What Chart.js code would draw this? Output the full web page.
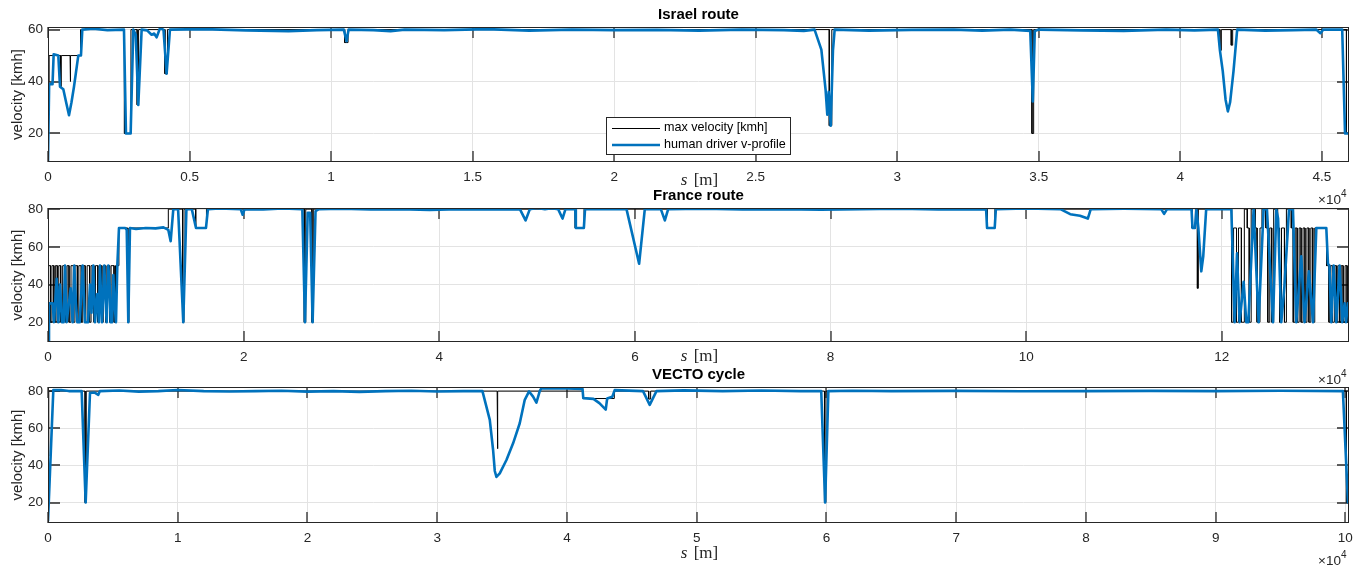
<!DOCTYPE html>
<html>
<head>
<meta charset="utf-8">
<script src="https://cdn.jsdelivr.net/npm/chart.js@4.4.1/dist/chart.umd.min.js"></script>
<style>
  html, body { margin: 0; padding: 0; background: #fff; }
  #wrap { position: relative; width: 1368px; height: 571px; }
  canvas { position: absolute; left: 0; top: 0; }
</style>
</head>
<body>
<div id="wrap">
  <canvas id="israel" width="1368" height="571"></canvas>
  <canvas id="france" width="1368" height="571"></canvas>
  <canvas id="vecto" width="1368" height="571"></canvas>
</div>
<script>
// ---- data: [s in m, v in km/h] ----
const israelMax = [
  [0,40],[40,40],[40,50],[440,50],[440,38],[470,38],[470,50],[780,50],[780,40],[800,40],[800,50],
  [1150,50],[1150,60],[2700,60],[2700,20],[2930,20],[2930,60],[3150,60],[3150,31],[3200,31],[3200,60],
  [4130,60],[4130,43],[4220,43],[4220,60],[10480,60],[10480,55],[10600,55],[10600,60],
  [27600,60],[27600,23],[27690,23],[27690,60],[34760,60],[34760,20],[34820,20],[34820,60],
  [41400,60],[41400,52],[41450,52],[41450,60],[41800,60],[41800,54],[41850,54],[41850,60],
  [45870,60],[45870,20],[45960,20]
];
const israelHuman = [
  [0,9],[40,39],[160,39],[200,50.5],[365,50],[424,38],[541,37],[640,32],[742,27],[830,32],[918,38],
  [1070,50],[1165,50],[1212,60],[1600,60.3],[2100,59.8],[2684,60],[2754,20],[2920,20],[3013,60],
  [3100,58],[3190,31],[3308,60],[3500,59.7],[3660,58],[3750,58.5],[3837,57],[3955,60.5],[4080,60],
  [4190,43],[4308,60],[5500,60.2],[7000,59.7],[8500,59.4],[9500,59.8],[10450,60],[10547,55.5],
  [10620,60],[11500,59.8],[12100,59.4],[12600,60],[14000,59.8],[15500,60.2],[17000,59.6],[18500,60],
  [20000,59.8],[21500,59.9],[23000,59.6],[24500,60],[26000,59.8],[26700,59.5],[27080,60],[27320,52.3],
  [27470,36.8],[27530,27.2],[27580,36],[27650,23],[27730,52],[27790,60],[29000,59.6],[30500,59.9],
  [32000,60],[33000,59.6],[34000,60],[34700,59.5],[34790,32.3],[34860,59.5],[35000,60],[36500,59.7],
  [38000,59.5],[39500,60],[40500,59.7],[41330,60],[41400,52],[41500,44],[41600,33],[41680,28.5],
  [41760,32],[41880,44],[42010,60],[43000,59.6],[44000,59.8],[44800,60],[44950,58.6],[45050,60],
  [45720,60],[45820,20],[45960,20]
];

const franceMax = [
  [0,20],[50,20],[50,50],[250,50],[250,20],[400,20],[400,50],[600,50],[600,20],[750,20],[750,50],
  [950,50],[950,20],[1100,20],[1100,50],[1300,50],[1300,20],[1500,20],[1500,50],[1800,50],[1800,20],
  [1950,20],[1950,50],[2150,50],[2150,20],[2350,20],[2350,50],[2600,50],[2600,20],[2750,20],[2750,50],
  [3000,50],[3000,20],[3150,20],[3150,50],[3400,50],[3400,20],[3550,20],[3550,50],[3800,50],[3800,20],
  [4000,20],[4000,50],[4250,50],[4250,20],[4400,20],[4400,50],[4700,50],[4700,20],[4850,20],[4850,50],
  [5100,50],[5100,20],[5250,20],[5250,50],[5500,50],[5500,20],[5650,20],[5650,50],[5900,50],[5900,20],
  [6050,20],[6050,50],[6300,50],[6300,20],[6450,20],[6450,50],[6750,50],[6750,20],[6900,20],[6900,50],
  [7250,50],[7250,70],[8150,70],[8150,20],[8280,20],[8280,70],[12300,70],[12300,80],[13750,80],
  [13750,20],[13900,20],[13900,80],[15100,80],[15100,70],[16200,70],[16200,80],[26200,80],[26200,20],
  [26350,20],[26350,80],[26980,80],[26980,20],[27120,20],[27120,80],[53900,80],[53900,70],[54800,70],
  [54800,80],[96000,80],[96000,70],[96800,70],[96800,80],[116950,80],[116950,70],[117300,70],
  [117300,80],[117500,80],[117500,38],[117600,38],[117600,80],[121000,80],[121000,20],[121200,20],
  [121200,70],[121500,70],[121500,20],[121700,20],[121700,70],[122000,70],[122000,20],[122300,20],
  [122300,80],[122600,80],[122600,70],[122800,70],[122800,20],[123000,20],[123000,80],[123400,80],
  [123400,70],[123600,70],[123600,20],[123900,20],[123900,70],[124100,70],[124100,80],[124500,80],
  [124500,70],[124700,70],[124700,20],[124900,20],[124900,70],[125100,70],[125100,20],[125300,20],
  [125300,80],[125700,80],[125700,70],[125900,70],[125900,20],[126100,20],[126100,70],[126400,70],
  [126400,20],[126600,20],[126600,80],[127100,80],[127100,70],[127300,70],[127300,20],[127500,20],
  [127500,70],[127700,70],[127700,20],[127900,20],[127900,70],[128100,70],[128100,20],[128300,20],
  [128300,70],[128500,70],[128500,20],[128700,20],[128700,70],[128900,70],[128900,20],[129100,20],
  [129100,70],[129300,70],[129300,20],[129500,20],[129500,70],[130700,70],[130700,50],[130950,50],
  [130950,20],[131100,20],[131100,50],[131300,50],[131300,20],[131500,20],[131500,50],[131700,50],
  [131700,20],[131850,20],[131850,50],[132050,50],[132050,20],[132200,20],[132200,50],[132400,50],
  [132400,20],[132600,20],[132600,50],[132800,50],[132800,20],[132900,20],[132900,50],[133000,50]
];
const franceHuman = [
  [0,10],[102,30],[477,30],[613,20],[886,43],[1056,20],[1226,40],[1431,20],[1600,20],[1737,50],
  [1908,20],[2316,38],[2521,20],[2691,50],[2850,30],[2998,20],[3250,20],[3543,50],[3781,20],[4100,20],
  [4292,40],[4450,25],[4633,50],[4803,20],[5042,35],[5200,20],[5315,50],[5519,20],[5758,50],[5900,30],
  [5996,20],[6167,50],[6300,40],[6405,20],[6550,20],[6678,45],[6800,30],[6950,20],[7086,50],[7256,70],
  [7900,70],[8050,69],[8210,20],[8380,70],[9000,69.5],[10000,70],[11000,69.8],[11800,70.3],[12300,69],
  [12540,63],[12810,80],[13300,80],[13830,20],[14150,80],[14700,80],[15130,70],[16150,70],[16350,80],
  [17500,80.3],[19700,80],[19900,77],[20100,80],[22000,79.8],[24000,80.3],[26000,80],[26270,20],
  [26550,78],[26800,78],[27050,20],[27350,79],[27700,80],[30000,80.2],[33000,79.8],[36000,80],
  [39000,79.6],[42000,80],[45000,79.8],[48240,80],[48820,74],[49260,80],[50000,80.6],[50800,80],
  [51500,80.5],[52150,80],[52600,75],[52900,80],[53900,80],[53960,70],[54780,70],[54900,80],[57000,80],
  [59140,80],[60430,51],[61010,80],[62650,80],[63060,74],[63400,80],[67000,80.2],[71000,79.8],
  [75000,80],[79000,79.7],[83000,80],[87000,80.2],[91000,79.8],[95900,80],[96000,70],[96780,70],
  [96900,80],[100000,80.3],[103500,80],[104500,77.3],[105500,76.5],[106300,75],[106600,80],[110000,80.2],
  [113800,80],[114100,77.5],[114400,80],[116900,80],[117000,70],[117250,70],[117400,80],[117600,70],
  [117900,47],[118100,55],[118400,80],[120970,80],[121310,20],[121550,56.5],[121820,20],[122230,41.4],
  [122500,20],[122710,20],[123250,80],[123760,20],[124270,80],[124610,80],[125230,20],[125570,80],
  [125750,75],[126080,20],[126400,39],[126870,80],[127270,80],[127610,20],[128120,55],[128460,20],
  [128900,47],[129320,20],[129660,70],[130510,70],[130680,70],[130850,51],[131000,50],[131190,20],
  [131430,50],[131700,20],[132040,50],[132310,20],[132550,30],[132700,20],[132890,30],[133000,30]
];

const vectoMax = [
  [0,45],[60,45],[60,80],[2860,80],[2860,20],[2950,20],[2950,80],[34620,80],[34620,49],[34680,49],
  [34680,80],[41250,80],[41250,76],[43650,76],[43650,80],[46300,80],[46300,75.7],[46450,75.7],
  [46450,80],[59850,80],[59850,20],[59960,20],[59960,80],[100080,80],[100080,20],[100280,20]
];
const vectoHuman = [
  [0,10],[410,80.5],[1000,80.6],[1600,80],[2595,80],[2903,20],[3236,79],[3600,79.2],[3877,78],
  [4000,80],[5500,80.3],[7000,79.7],[8500,80],[10000,80.6],[12000,80],[14000,79.8],[16000,80],
  [18000,80.2],[20000,79.7],[22000,80],[24000,79.6],[26000,80],[28000,80.2],[30000,79.8],[32000,80],
  [33486,80],[34052,64.5],[34308,48.3],[34437,37],[34565,33.8],[34822,35.7],[35336,42.9],[35849,51.9],
  [36362,62.7],[36748,75.3],[37081,79.8],[37390,77],[37646,73.8],[37904,80],[38032,81.6],[40000,81.4],
  [41200,81.2],[41260,76.2],[42040,75.8],[42500,73.5],[42990,70],[43100,76],[43500,77],[43680,80.5],
  [45865,80],[46380,72.6],[46900,80],[49000,80.4],[52000,80],[55000,80.3],[58000,80],[59600,80],
  [59900,20],[60150,80],[62000,80.2],[65000,80],[70000,80.1],[75000,79.9],[80000,80],[85000,80.1],
  [90000,80],[95000,80.2],[99810,80],[100200,20],[100280,20]
];

const israelXTicks = [0,5000,10000,15000,20000,25000,30000,35000,40000,45000];
const franceXTicks = [0,20000,40000,60000,80000,100000,120000];
const vectoXTicks = [0,10000,20000,30000,40000,50000,60000,70000,80000,90000,100000];
const israelYTicks = [20,40,60];
const franceYTicks = [20,40,60,80];
const vectoYTicks = [20,40,60,80];

const BLUE = '#0072BD';
const AXIS = '#262626';
const GRID = '#e3e3e3';
const SANS = '"Liberation Sans", Arial, Helvetica, sans-serif';
const SERIF = '"Liberation Serif", "DejaVu Serif", serif';

const matlabFrame = {
  id: 'matlabFrame',
  beforeDatasetsDraw(chart) {
    const { ctx, chartArea: a, scales: { x, y } } = chart;
    ctx.save();
    ctx.strokeStyle = '#2a2a2a';
    ctx.lineWidth = 1.3;
    ctx.beginPath();
    x.ticks.forEach(t => {
      const px = Math.round(x.getPixelForValue(t.value));
      ctx.moveTo(px, a.bottom); ctx.lineTo(px, a.bottom - 11);
      ctx.moveTo(px, a.top); ctx.lineTo(px, a.top + 11);
    });
    y.ticks.forEach(t => {
      const py = Math.round(y.getPixelForValue(t.value));
      ctx.moveTo(a.left, py); ctx.lineTo(a.left + 12, py);
      ctx.moveTo(a.right, py); ctx.lineTo(a.right - 12, py);
    });
    ctx.stroke();
    ctx.restore();
  },
  afterDatasetsDraw(chart, args, o) {
    const { ctx, chartArea: a } = chart;
    ctx.save();
    ctx.strokeStyle = AXIS;
    ctx.lineWidth = 1;
    ctx.strokeRect(a.left + 0.5, a.top + 0.5, a.right - a.left - 1, a.bottom - a.top - 1);
    if (o.legend) {
      ctx.fillStyle = '#fff';
      ctx.fillRect(606, 118, 184, 37);
      ctx.strokeRect(606.5, 117.5, 184, 37);
      ctx.beginPath();
      ctx.strokeStyle = '#000';
      ctx.moveTo(612, 128.5); ctx.lineTo(660, 128.5);
      ctx.stroke();
      ctx.beginPath();
      ctx.strokeStyle = BLUE;
      ctx.lineWidth = 2.5;
      ctx.moveTo(612, 145); ctx.lineTo(660, 145);
      ctx.stroke();
      ctx.fillStyle = '#000';
      ctx.font = '12.6px ' + SANS;
      ctx.textBaseline = 'middle';
      ctx.textAlign = 'left';
      ctx.fillText('max velocity [kmh]', 664, 128);
      ctx.fillText('human driver v-profile', 664, 145);
    }
    ctx.restore();
  },
  afterDraw(chart, args, o) {
    const { ctx, chartArea: a } = chart;
    const cx = (a.left + a.right) / 2;
    ctx.save();
    ctx.fillStyle = '#000';
    ctx.textBaseline = 'middle';
    ctx.textAlign = 'center';
    ctx.font = 'bold 15px ' + SANS;
    ctx.fillText(o.title, cx, a.top - 12);

    // y label
    ctx.save();
    ctx.translate(18, (a.top + a.bottom) / 2);
    ctx.rotate(-Math.PI / 2);
    ctx.fillStyle = AXIS;
    ctx.font = '15px ' + SANS;
    ctx.fillText('velocity [kmh]', 0, 0);
    ctx.restore();

    // x label (latex style)
    ctx.fillStyle = AXIS;
    ctx.textAlign = 'left';
    ctx.font = 'italic 17px ' + SERIF;
    const w1 = ctx.measureText('s').width;
    ctx.font = '17px ' + SERIF;
    const w2 = ctx.measureText(' [m]').width;
    const sx = cx - (w1 + w2) / 2;
    ctx.font = 'italic 17px ' + SERIF;
    ctx.fillText('s', sx, o.xlabelY);
    ctx.font = '17px ' + SERIF;
    ctx.fillText(' [m]', sx + w1 + 2, o.xlabelY);

    // exponent
    ctx.font = '13.5px ' + SANS;
    ctx.textAlign = 'right';
    ctx.fillText('\u00d710', 1341, a.bottom + 38);
    ctx.textAlign = 'left';
    ctx.font = '10px ' + SANS;
    ctx.fillText('4', 1341, a.bottom + 32);
    ctx.restore();
  }
};

const toXY = arr => arr.map(p => ({ x: p[0], y: p[1] }));

function subplot(id, human, maxv, o) {
  return new Chart(document.getElementById(id), {
    type: 'line',
    data: {
      datasets: [
        { label: 'human driver v-profile', data: toXY(human), borderColor: BLUE, borderWidth: 2.6,
          pointRadius: 0, tension: 0, borderJoinStyle: 'round', order: 0 },
        { label: 'max velocity [kmh]', data: toXY(maxv), borderColor: '#000', borderWidth: 1,
          pointRadius: 0, tension: 0, order: 1 }
      ]
    },
    options: {
      responsive: false,
      animation: false,
      events: [],
      layout: { autoPadding: false, padding: { left: 0, right: 19, top: o.top, bottom: 571 - o.bottom - 30 } },
      plugins: {
        legend: { display: false },
        tooltip: { enabled: false },
        matlabFrame: { title: o.title, legend: o.legend, xlabelY: o.xlabelY }
      },
      scales: {
        x: {
          type: 'linear', min: 0, max: o.xmax,
          afterFit: s => { s.height = 30; },
          afterBuildTicks: s => { s.ticks = o.xticks.map(v => ({ value: v })); },
          grid: { color: GRID, drawTicks: false },
          border: { display: false },
          ticks: {
            padding: 7, autoSkip: false, maxRotation: 0, color: AXIS,
            font: { family: SANS, size: 13.5 },
            callback: v => String(+(v / 1e4).toFixed(2))
          }
        },
        y: {
          type: 'linear', min: o.ymin, max: o.ymax,
          afterFit: s => { s.width = 48; },
          afterBuildTicks: s => { s.ticks = o.yticks.map(v => ({ value: v })); },
          grid: { color: GRID, drawTicks: false },
          border: { display: false },
          ticks: { padding: 5, color: AXIS, font: { family: SANS, size: 13.5 } }
        }
      }
    },
    plugins: [matlabFrame]
  });
}

subplot('israel', israelHuman, israelMax, {
  title: 'Israel route', legend: true, top: 27, bottom: 162, xlabelY: 181,
  xmax: 45960, ymin: 9, ymax: 61, xticks: israelXTicks, yticks: israelYTicks
});
subplot('france', franceHuman, franceMax, {
  title: 'France route', legend: false, top: 208, bottom: 342, xlabelY: 357,
  xmax: 133000, ymin: 9.5, ymax: 80.6, xticks: franceXTicks, yticks: franceYTicks
});
subplot('vecto', vectoHuman, vectoMax, {
  title: 'VECTO cycle', legend: false, top: 387, bottom: 523, xlabelY: 554,
  xmax: 100280, ymin: 9, ymax: 82.2, xticks: vectoXTicks, yticks: vectoYTicks
});
</script>
</body>
</html>
